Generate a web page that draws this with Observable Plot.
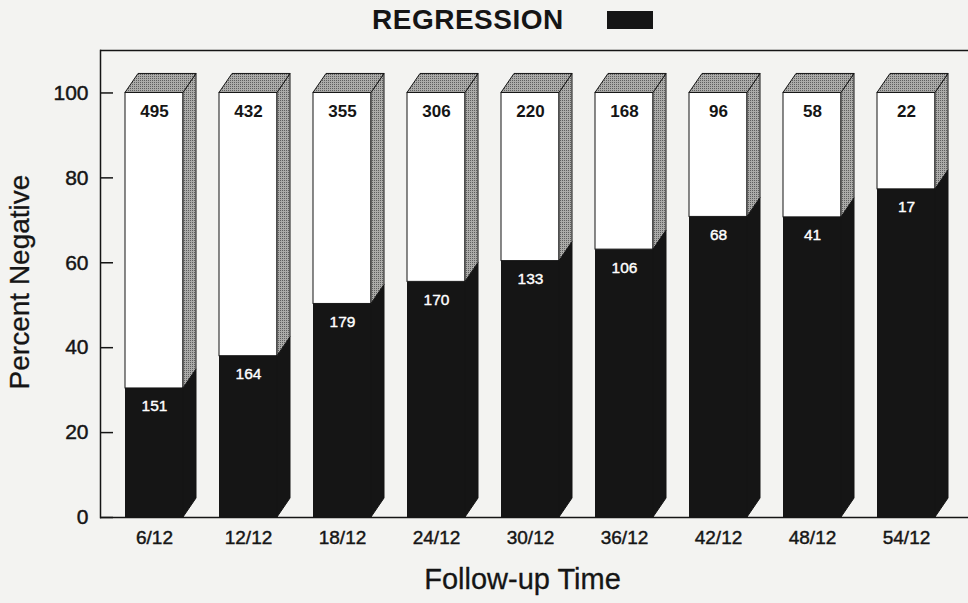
<!DOCTYPE html>
<html>
<head>
<meta charset="utf-8">
<script src="https://cdn.jsdelivr.net/npm/d3@7"></script>
<script src="https://cdn.jsdelivr.net/npm/@observablehq/plot@0.6"></script>
<style>
  html, body { margin: 0; padding: 0; background: #f3f3f1; }
  body { width: 968px; height: 603px; overflow: hidden; font-family: "Liberation Sans", Arial, sans-serif; }
  #title { height: 40px; position: relative; }
  #title .t { position: absolute; left: 372px; top: 4px; font-size: 28px; font-weight: bold; letter-spacing: 0.5px; color: #151515; line-height: 32px; }
  #title .sw { position: absolute; left: 607px; top: 11px; width: 46px; height: 18px; background: #151515; }
  #chart g[aria-label$="tick label"] text { stroke: #151515; stroke-width: 0.45px; }
</style>
</head>
<body>
<div id="title"><span class="t">REGRESSION</span><span class="sw"></span></div>
<div id="chart"></div>
<script>
// ---- data ----
const times = ["6/12", "12/12", "18/12", "24/12", "30/12", "36/12", "42/12", "48/12", "54/12"];
const totals = [495, 432, 355, 306, 220, 168, 96, 58, 22];
const regressed = [151, 164, 179, 170, 133, 106, 68, 41, 17];
const percentNegative = [30.4, 38.0, 50.3, 55.5, 60.4, 63.1, 70.8, 70.7, 77.3];
const yTicks = [0, 20, 40, 60, 80, 100];
const yLabel = "Percent Negative";
const xLabel = "Follow-up Time";

const rows = times.map((t, i) => ({time: t, total: totals[i], count: regressed[i], pct: percentNegative[i]}));

const INK = "#151515";
const DEPTH_X = 13, DEPTH_Y = 19;

// 3-D side and top faces, positioned with Plot's own scales
function faces(index, scales, values, dimensions, context) {
  const x = scales.x, y = scales.y;
  const bw = x.bandwidth();
  const g = d3.create("svg:g");
  const pat = g.append("defs").append("pattern")
    .attr("id", "stipple").attr("width", 2).attr("height", 2)
    .attr("patternUnits", "userSpaceOnUse");
  pat.append("rect").attr("width", 2).attr("height", 2).attr("fill", "#ababa9");
  pat.append("rect").attr("width", 1).attr("height", 1).attr("fill", "#5e5e5e");
  const poly = (pts) => "M" + pts.map(p => p.join(",")).join("L") + "Z";
  for (const i of index) {
    const d = rows[i];
    const x1 = x(d.time), x2 = x1 + bw;
    const y0 = y(0), yp = y(d.pct), yt = y(100);
    // black lower side
    g.append("path").attr("d", poly([[x2, yp], [x2 + DEPTH_X, yp - DEPTH_Y], [x2 + DEPTH_X, y0 - DEPTH_Y], [x2, y0]]))
      .attr("fill", INK).attr("stroke", INK).attr("stroke-width", 1);
    // gray upper side
    g.append("path").attr("d", poly([[x2, yt], [x2 + DEPTH_X, yt - DEPTH_Y], [x2 + DEPTH_X, yp - DEPTH_Y], [x2, yp]]))
      .attr("fill", "url(#stipple)").attr("stroke", INK).attr("stroke-width", 1);
    // top face
    g.append("path").attr("d", poly([[x1, yt], [x1 + DEPTH_X, yt - DEPTH_Y], [x2 + DEPTH_X, yt - DEPTH_Y], [x2, yt]]))
      .attr("fill", "url(#stipple)").attr("stroke", INK).attr("stroke-width", 1);
  }
  return g.node();
}

const chart = Plot.plot({
  width: 968,
  height: 563,
  marginLeft: 100,
  marginRight: 0,
  marginTop: 10,
  marginBottom: 86,
  style: {background: "transparent", fontFamily: "Liberation Sans, Arial, sans-serif", color: INK},
  x: {domain: times, range: [124, 935], paddingInner: 0.384, paddingOuter: 0, label: null},
  y: {domain: [0, 110], label: null},
  marks: [
    Plot.barY(rows, {x: "time", y: "pct", fill: INK}),
    Plot.barY(rows, {x: "time", y1: "pct", y2: 100, fill: "white", stroke: INK, strokeWidth: 1}),
    Plot.barY(rows, {x: "time", y: "pct", render: faces}),
    Plot.text(rows, {x: "time", y: 100, text: d => String(d.total), dy: 19, fontSize: 17, fontWeight: "bold", fill: INK}),
    Plot.text(rows, {x: "time", y: "pct", text: d => String(d.count), dy: 18, fontSize: 15.5, fill: "white", stroke: "white", strokeWidth: 0.4}),
    Plot.ruleY([0, 110], {stroke: INK, strokeWidth: 1.5}),
    Plot.frame({anchor: "left", stroke: INK, strokeWidth: 1.5}),
    Plot.axisY({ticks: yTicks, tickSize: 13, dx: 13, tickPadding: 12, fontSize: 21, stroke: INK, strokeWidth: 1.5, fill: INK, label: null}),
    Plot.axisX({tickSize: 0, tickPadding: 13, fontSize: 19, fill: INK, label: null}),
    Plot.text([yLabel], {frameAnchor: "left", textAnchor: "middle", rotate: -90, dx: -80, dy: -2, fontSize: 28, fill: INK, stroke: INK, strokeWidth: 0.3}),
    Plot.text([xLabel], {frameAnchor: "bottom", dx: -12, dy: 71, fontSize: 29, fill: INK, stroke: INK, strokeWidth: 0.3})
  ]
});
document.getElementById("chart").appendChild(chart);
</script>
</body>
</html>
